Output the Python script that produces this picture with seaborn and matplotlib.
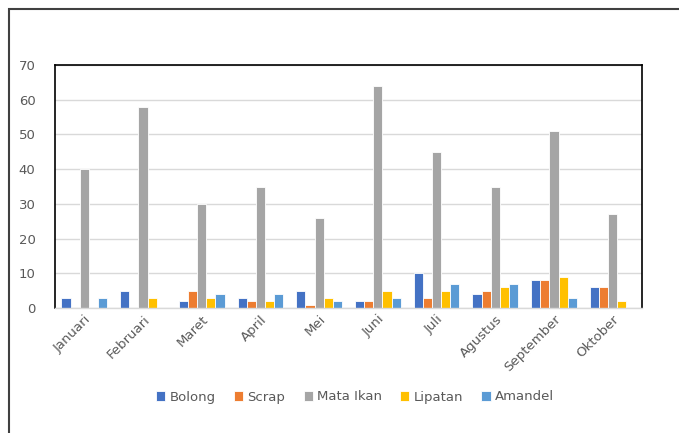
import seaborn as sns
import matplotlib.pyplot as plt
import pandas as pd
from matplotlib.patches import Rectangle

# Data
months = ['Januari', 'Februari', 'Maret', 'April', 'Mei',
          'Juni', 'Juli', 'Agustus', 'September', 'Oktober']
bolong = [3, 5, 2, 3, 5, 2, 10, 4, 8, 6]
scrap = [0, 0, 5, 2, 1, 2, 3, 5, 8, 6]
mata_ikan = [40, 58, 30, 35, 26, 64, 45, 35, 51, 27]
lipatan = [0, 3, 3, 2, 3, 5, 5, 6, 9, 2]
amandel = [3, 0, 4, 4, 2, 3, 7, 7, 3, 0]

series = {
    'Bolong': bolong,
    'Scrap': scrap,
    'Mata Ikan': mata_ikan,
    'Lipatan': lipatan,
    'Amandel': amandel,
}
colors = {
    'Bolong': '#4472C4',
    'Scrap': '#ED7D31',
    'Mata Ikan': '#A5A5A5',
    'Lipatan': '#FFC000',
    'Amandel': '#5B9BD5',
}

rows = []
for name, vals in series.items():
    for m, v in zip(months, vals):
        rows.append({'bulan': m, 'jenis': name, 'jumlah': v})
df = pd.DataFrame(rows)

sns.set_style("white")
plt.rcParams['font.family'] = ['DejaVu Sans']

fig = plt.figure(figsize=(6.79, 4.33), dpi=100)
ax = fig.add_axes([55 / 679, 1 - 308 / 433, (642 - 55) / 679, (308 - 65) / 433])

sns.barplot(data=df, x='bulan', y='jumlah', hue='jenis', palette=colors,
            order=months, hue_order=list(series.keys()), saturation=1,
            width=0.78, edgecolor='white', linewidth=0.6, ax=ax)

ax.set_ylim(0, 70)
ax.set_yticks(range(0, 71, 10))
ax.yaxis.grid(True, color='#D9D9D9', linewidth=1)
ax.set_axisbelow(True)
ax.set_xlabel('')
ax.set_ylabel('')
ax.tick_params(axis='both', length=0, colors='#595959', labelsize=9.5)
ax.tick_params(axis='y', pad=14)
plt.setp(ax.get_xticklabels(), rotation=45, ha='right', rotation_mode='anchor')

for side in ['top', 'left', 'right']:
    ax.spines[side].set_color('black')
    ax.spines[side].set_linewidth(1.2)
ax.spines['bottom'].set_color('#D9D9D9')
ax.spines['bottom'].set_linewidth(1)

leg = ax.legend(loc='center', bbox_to_anchor=(355 / 679, 1 - 397 / 433),
                bbox_transform=fig.transFigure, ncol=5, frameon=False,
                handlelength=0.7, handleheight=0.7, handletextpad=0.3,
                columnspacing=1.4, fontsize=9.5)
for t in leg.get_texts():
    t.set_color('#595959')

# outer chart frame
fig.patches.append(Rectangle((9 / 679, -0.05), 1.2, 1 - 9 / 433 + 0.05,
                             transform=fig.transFigure, fill=False,
                             edgecolor='#404040', linewidth=1.5))

plt.savefig('out.png', dpi=100)
